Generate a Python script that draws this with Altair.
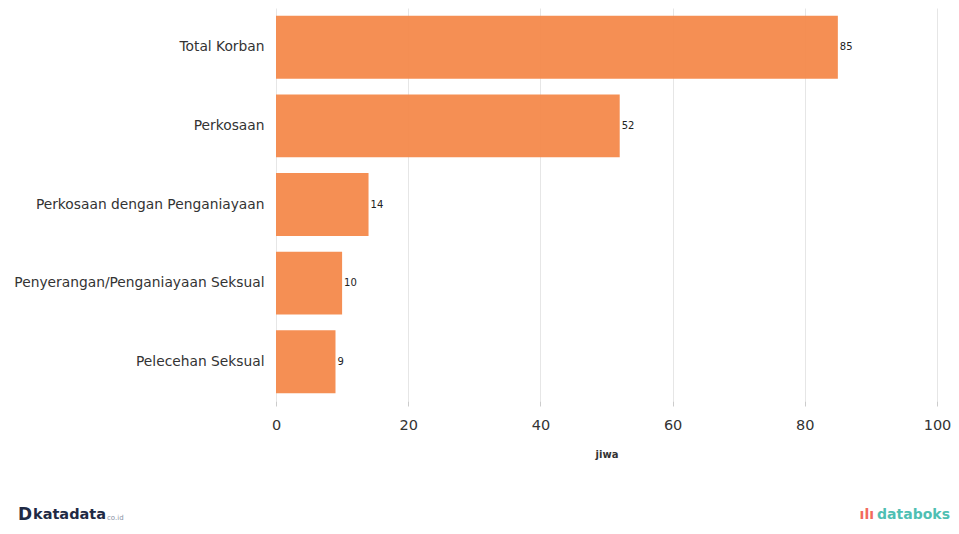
import altair as alt
import pandas as pd

categories = ["Total Korban", "Perkosaan", "Perkosaan dengan Penganiayaan",
              "Penyerangan/Penganiayaan Seksual", "Pelecehan Seksual"]
values = [85, 52, 14, 10, 9]
x_ticks = [0, 20, 40, 60, 80, 100]

df = pd.DataFrame({"kategori": categories, "jiwa": values})
FONT = "DejaVu Sans"

y_enc = alt.Y("kategori:N", sort=categories, title=None,
              scale=alt.Scale(paddingInner=0.2, paddingOuter=0.1),
              axis=alt.Axis(labelFont=FONT, labelFontSize=13.8, labelColor="#333333",
                            labelPadding=12, ticks=False, domain=False, labelLimit=300))
x_enc = alt.X("jiwa:Q", title="jiwa",
              scale=alt.Scale(domain=[0, 100]),
              axis=alt.Axis(values=x_ticks, labelFont=FONT, labelFontSize=14.5,
                            labelColor="#333333", labelPadding=12, labelFlush=False,
                            tickColor="#cccccc", tickSize=5, domain=False,
                            gridColor="#e6e6e6", titleFont=FONT, titleFontSize=10,
                            titleFontWeight="bold", titleColor="#333333", titlePadding=18))

bars = alt.Chart(df).mark_bar(color="#f4894b", opacity=0.95).encode(y=y_enc, x=x_enc)
labels = alt.Chart(df).mark_text(align="left", dx=2, font=FONT, fontSize=10,
                                 color="#222222").encode(
    y=alt.Y("kategori:N", sort=categories), x="jiwa:Q", text="jiwa:Q")

LOGO_Y = 507
logo_left = alt.Chart(pd.DataFrame({"t": ["katadata"]})).mark_text(
    align="left", baseline="middle", font=FONT, fontSize=14.5, fontWeight="bold",
    color="#1f2a44").encode(x=alt.value(-243), y=alt.value(LOGO_Y), text="t:N")
logo_left_d = alt.Chart(pd.DataFrame({"t": ["D"]})).mark_text(
    align="left", baseline="middle", font=FONT, fontSize=17, fontWeight="bold",
    color="#1f2a44").encode(x=alt.value(-258), y=alt.value(LOGO_Y), text="t:N")
logo_left_co = alt.Chart(pd.DataFrame({"t": ["co.id"]})).mark_text(
    align="left", baseline="middle", font=FONT, fontSize=7,
    color="#8a93a6").encode(x=alt.value(-169), y=alt.value(LOGO_Y + 3), text="t:N")
logo_right = alt.Chart(pd.DataFrame({"t": ["databoks"]})).mark_text(
    align="right", baseline="middle", font=FONT, fontSize=14, fontWeight="bold",
    color="#4fbfb3").encode(x=alt.value(674), y=alt.value(LOGO_Y), text="t:N")
logo_right_icon = alt.Chart(pd.DataFrame({"t": ["ılı"]})).mark_text(
    align="right", baseline="middle", font=FONT, fontSize=14, fontWeight="bold",
    color="#f26b5b").encode(x=alt.value(598), y=alt.value(LOGO_Y), text="t:N")

chart = alt.layer(bars, labels, logo_left, logo_left_d, logo_left_co,
                  logo_right, logo_right_icon).properties(
    width=661, height=393, background="white",
    padding={"left": 268, "top": 0, "right": 14, "bottom": 124},
    autosize=alt.AutoSizeParams(type="none"),
).configure_view(stroke=None)

chart.save("out.html", embed_options={"renderer": "svg", "actions": False})
